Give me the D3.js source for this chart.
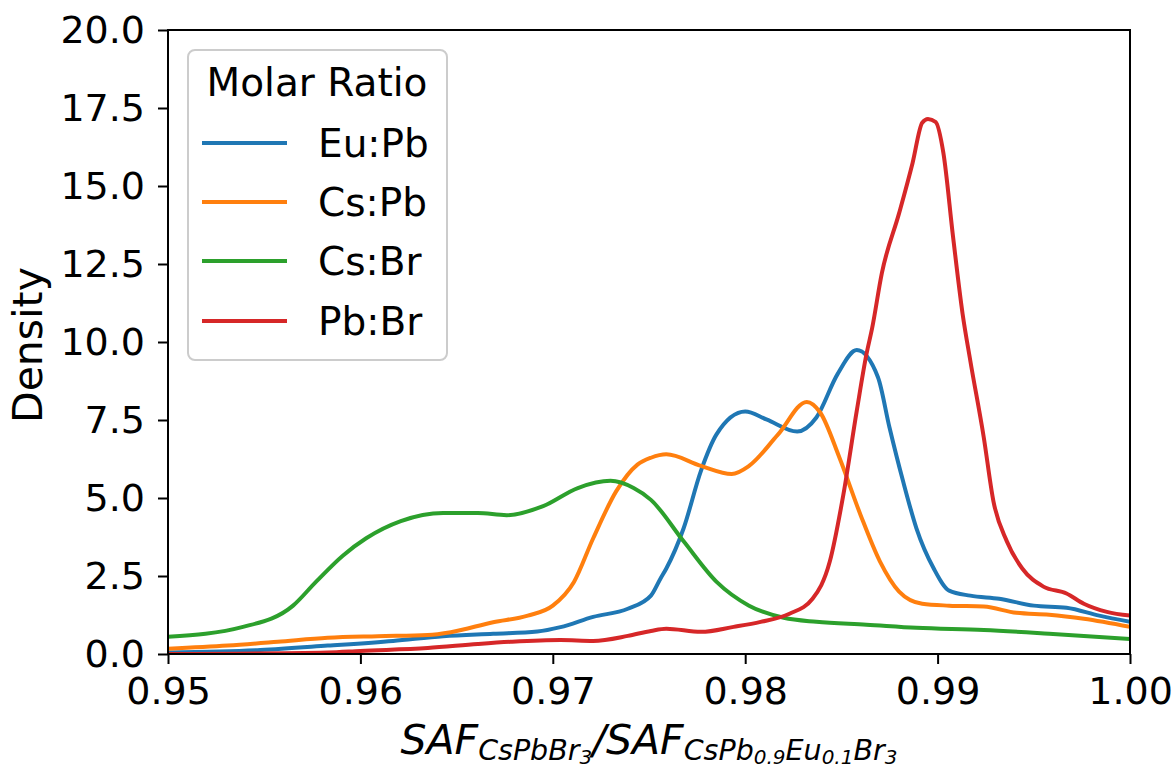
<!DOCTYPE html>
<html>
<head>
<meta charset="utf-8">
<script src="https://cdn.jsdelivr.net/npm/d3@7"></script>
<style>
  html, body { margin: 0; padding: 0; background: #fff; }
  svg { display: block; }
  text { font-family: "DejaVu Sans", sans-serif; fill: #000; }
</style>
</head>
<body>
<svg id="chart" width="1175" height="769"></svg>
<script>
// ---------------- data ----------------
const seriesNames = ["Eu:Pb", "Cs:Pb", "Cs:Br", "Pb:Br"];
const seriesColors = ["#1f77b4", "#ff7f0e", "#2ca02c", "#d62728"];

const euPbX = [0.950,0.9548,0.9583,0.9617,0.9643,0.9669,0.9692,0.9704,0.9721,0.9739,0.9751,0.9756,0.9759,0.9768,0.9777,0.9785,0.9800,0.9811,0.9827,0.9837,0.9848,0.9858,0.9869,0.9875,0.9882,0.9889,0.9898,0.9906,0.9917,0.9932,0.9950,0.9967,0.9984,1.000];
const euPbY = [0.05,0.13,0.27,0.42,0.57,0.65,0.72,0.86,1.19,1.45,1.87,2.42,2.74,4.03,5.87,7.03,7.77,7.52,7.13,7.58,8.97,9.74,8.87,7.26,5.55,4.03,2.74,2.03,1.87,1.77,1.55,1.48,1.23,1.03];

const csPbX = [0.950,0.9531,0.9557,0.9583,0.9609,0.9635,0.9647,0.9669,0.9687,0.9700,0.9711,0.9721,0.9733,0.9744,0.9751,0.9759,0.9777,0.9793,0.9802,0.9817,0.9832,0.9839,0.9849,0.9860,0.9870,0.9880,0.9892,0.9906,0.9924,0.9941,0.9958,0.9976,1.000];
const csPbY = [0.17,0.27,0.39,0.52,0.57,0.61,0.70,1.02,1.23,1.55,2.31,3.71,5.22,6.07,6.29,6.40,6.03,5.77,6.03,7.03,8.08,7.74,6.29,4.45,2.97,2.0,1.61,1.55,1.52,1.32,1.26,1.13,0.87];

const csBrX = [0.950,0.9539,0.9565,0.9577,0.9591,0.9603,0.9621,0.9643,0.9661,0.9676,0.9695,0.9713,0.9730,0.9742,0.9751,0.9768,0.9785,0.9802,0.9820,0.9837,0.9863,0.9889,0.9924,0.9958,1.000];
const csBrY = [0.55,0.87,1.55,2.32,3.16,3.71,4.26,4.52,4.52,4.45,4.74,5.32,5.55,5.32,4.94,3.61,2.32,1.55,1.16,1.03,0.94,0.84,0.77,0.65,0.48];

const pbBrX = [0.950,0.9583,0.9600,0.9635,0.9661,0.9678,0.9704,0.9721,0.9739,0.9751,0.9759,0.9777,0.9794,0.9808,0.9823,0.9835,0.9844,0.9851,0.9858,0.9863,0.9866,0.9871,0.9880,0.9887,0.9892,0.9895,0.9899,0.9903,0.9908,0.9913,0.9917,0.9924,0.9929,0.9936,0.9944,0.9955,0.9967,0.9976,0.9988,1.000];
const pbBrY = [0.0,0.05,0.10,0.19,0.32,0.39,0.45,0.42,0.58,0.74,0.81,0.71,0.87,1.03,1.29,1.77,2.97,5.1,7.8,9.6,10.45,12.2,14.13,15.74,17.03,17.15,17.05,16.06,13.39,10.9,9.4,6.94,4.9,3.61,2.74,2.16,1.94,1.61,1.35,1.23];

const xTickValues = [0.95, 0.96, 0.97, 0.98, 0.99, 1.00];
const yTickValues = [0, 2.5, 5, 7.5, 10, 12.5, 15, 17.5, 20];
const legendTitle = "Molar Ratio";
const yLabel = "Density";

// ---------------- layout ----------------
const svg = d3.select("#chart");
const M = { left: 168, right: 1130, top: 30, bottom: 654 };

const x = d3.scaleLinear().domain([0.95, 1.0]).range([M.left, M.right]);
const y = d3.scaleLinear().domain([0, 20]).range([M.bottom, M.top]);

const TICK_FONT = 38;
const LEG_FONT = 39;

svg.append("defs").append("clipPath").attr("id", "clip")
  .append("rect").attr("x", M.left).attr("y", M.top)
  .attr("width", M.right - M.left).attr("height", M.bottom - M.top);

// lines
const series = [
  { xs: euPbX, ys: euPbY },
  { xs: csPbX, ys: csPbY },
  { xs: csBrX, ys: csBrY },
  { xs: pbBrX, ys: pbBrY }
];
const line = d3.line().x(d => x(d[0])).y(d => y(d[1])).curve(d3.curveMonotoneX);
const gLines = svg.append("g").attr("clip-path", "url(#clip)");
series.forEach((s, i) => {
  const pts = s.xs.map((v, k) => [v, s.ys[k]]);
  gLines.append("path").datum(pts)
    .attr("d", line)
    .attr("fill", "none")
    .attr("stroke", seriesColors[i])
    .attr("stroke-width", 4)
    .attr("stroke-linejoin", "round")
    .attr("stroke-linecap", "round");
});

// axes
const xAxis = d3.axisBottom(x).tickValues(xTickValues).tickFormat(d3.format(".2f"))
  .tickSizeInner(10).tickSizeOuter(0).tickPadding(13);
const yAxis = d3.axisLeft(y).tickValues(yTickValues).tickFormat(d3.format(".1f"))
  .tickSizeInner(10).tickSizeOuter(0).tickPadding(13);

const gx = svg.append("g").attr("transform", `translate(0,${M.bottom})`).call(xAxis);
const gy = svg.append("g").attr("transform", `translate(${M.left},0)`).call(yAxis);
[gx, gy].forEach(g => {
  g.select(".domain").remove();
  g.selectAll(".tick line").attr("stroke", "#000").attr("stroke-width", 2);
  g.selectAll(".tick text").attr("font-size", TICK_FONT).attr("font-family", "DejaVu Sans").attr("fill", "#000");
});

// frame
svg.append("rect").attr("x", M.left).attr("y", M.top)
  .attr("width", M.right - M.left).attr("height", M.bottom - M.top)
  .attr("fill", "none").attr("stroke", "#000").attr("stroke-width", 2);

// y label
svg.append("text")
  .attr("transform", `translate(42,${(M.top + M.bottom) / 2 + 3}) rotate(-90)`)
  .attr("text-anchor", "middle")
  .attr("font-size", 41)
  .text(yLabel);

// x label (mathtext-like)
const xl = svg.append("text")
  .attr("x", 649)
  .attr("y", 754)
  .attr("text-anchor", "middle")
  .attr("font-style", "italic");
const big = 41, sub = 28.5, sub2 = 20;
function part(txt, size, dy) {
  xl.append("tspan").attr("font-size", size).attr("dy", dy).text(txt);
}
part("SAF", big, 0);
part("CsPbBr", sub, 6);
part("3", sub2, 4);
part("/SAF", big, -10);
part("CsPb", sub, 6);
part("0.9", sub2, 4);
part("Eu", sub, -4);
part("0.1", sub2, 4);
part("Br", sub, -4);
part("3", sub2, 4);

// legend
const lg = svg.append("g");
lg.append("rect").attr("x", 188).attr("y", 50).attr("width", 259).attr("height", 310)
  .attr("rx", 7).attr("ry", 7)
  .attr("fill", "#fff").attr("fill-opacity", 0.8)
  .attr("stroke", "#cccccc").attr("stroke-width", 2);
lg.append("text").attr("x", 317).attr("y", 96).attr("text-anchor", "middle")
  .attr("font-size", LEG_FONT).text(legendTitle);
const legendY = [143, 202, 261, 321];
seriesNames.forEach((name, i) => {
  lg.append("line").attr("x1", 202).attr("x2", 287)
    .attr("y1", legendY[i]).attr("y2", legendY[i])
    .attr("stroke", seriesColors[i]).attr("stroke-width", 4);
  lg.append("text").attr("x", 318).attr("y", legendY[i] + 14)
    .attr("font-size", LEG_FONT).text(name);
});
</script>
</body>
</html>
